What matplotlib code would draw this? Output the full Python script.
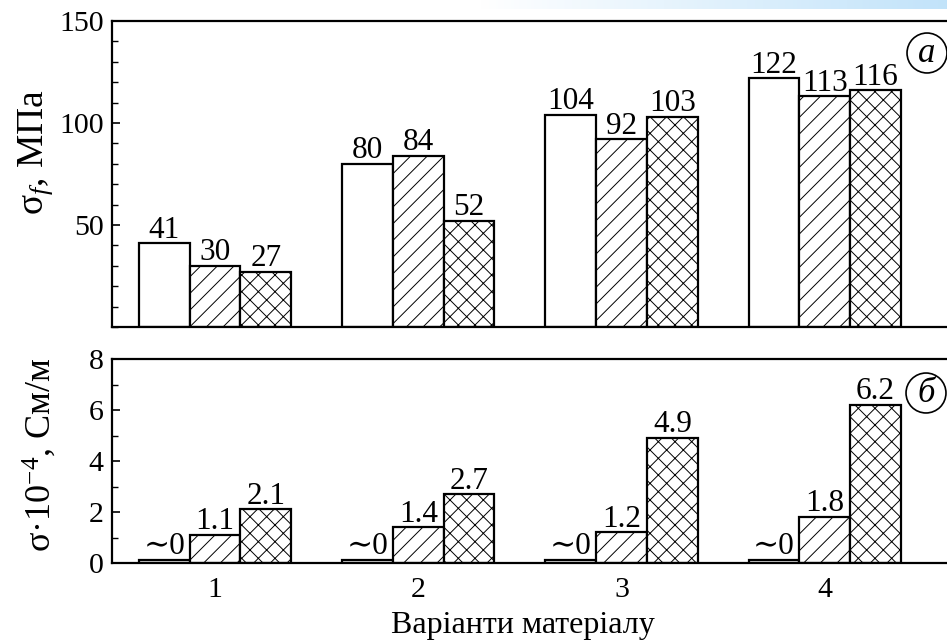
import numpy as np
import matplotlib
matplotlib.use('Agg')
import matplotlib.pyplot as plt

plt.rcParams['font.family'] = ['Liberation Serif', 'DejaVu Serif']
plt.rcParams['mathtext.fontset'] = 'custom'
plt.rcParams['mathtext.rm'] = 'Liberation Serif'
plt.rcParams['mathtext.it'] = 'Liberation Serif:italic'
plt.rcParams['hatch.linewidth'] = 0.7

# data
variants = [1, 2, 3, 4]
hatches = ['', '//', 'xx']

strength = [[41, 80, 104, 122],       # white bars
            [30, 84, 92, 113],        # hatched
            [27, 52, 103, 116]]       # crosshatched
strength_lbl = [['41', '80', '104', '122'],
                ['30', '84', '92', '113'],
                ['27', '52', '103', '116']]

conduct = [[0.12, 0.12, 0.12, 0.12],
           [1.1, 1.4, 1.2, 1.8],
           [2.1, 2.7, 4.9, 6.2]]
conduct_lbl = [['∼0', '∼0', '∼0', '∼0'],
               ['1.1', '1.4', '1.2', '1.8'],
               ['2.1', '2.7', '4.9', '6.2']]

W, H = 947, 644
fig = plt.figure(figsize=(W / 100, H / 100), dpi=100)

def px_axes(x0, y0, x1, y1):
    # axes from pixel box (top-left origin)
    return fig.add_axes([x0 / W, 1 - y1 / H, (x1 - x0) / W, (y1 - y0) / H])

ax1 = px_axes(112, 21, 965, 327)
ax2 = px_axes(112, 359, 965, 563)

bw = 0.25
x = np.array(variants, dtype=float)

def draw(ax, vals, lbls):
    for i in range(3):
        pos = x + (i - 1) * bw
        bars = ax.bar(pos, vals[i], bw, color='white', edgecolor='k',
                      linewidth=1.6, hatch=hatches[i], zorder=2)
        for b, t in zip(bars, lbls[i]):
            ax.annotate(t, (b.get_x() + b.get_width() / 2, b.get_height()),
                        xytext=(0, -1), textcoords='offset points',
                        ha='center', va='bottom', fontsize=22.5)
    ax.set_xlim(0.493, 4.69)
    for s in ax.spines.values():
        s.set_linewidth(1.6)
    ax.tick_params(axis='y', direction='in', length=6, width=1.2,
                   labelsize=21.5, pad=6)
    ax.tick_params(axis='y', which='minor', direction='in', length=4, width=1)
    ax.tick_params(axis='x', length=0, labelsize=21.5, pad=10)

draw(ax1, strength, strength_lbl)
ax1.set_ylim(0, 150)
ax1.set_yticks([50, 100, 150])
ax1.set_yticks(np.arange(0, 151, 10), minor=True)
ax1.set_xticks([])

draw(ax2, conduct, conduct_lbl)
ax2.set_ylim(0, 8)
ax2.set_yticks([0, 2, 4, 6, 8])
ax2.set_yticks(np.arange(0, 9, 1), minor=True)
ax2.set_xticks(variants)
ax2.set_xticklabels([str(v) for v in variants])

# axis labels
fig.text(36 / W, 1 - 152 / H, 'σ$_{f}$, МПа', rotation=90, fontsize=27,
         ha='center', va='center')
fig.text(40 / W, 1 - 455 / H, 'σ·10$^{-4}$, См/м', rotation=90, fontsize=26,
         ha='center', va='center')
fig.text(523 / W, 1 - 626 / H, 'Варіанти матеріалу', fontsize=23,
         ha='center', va='center')

# panel marks
circ = dict(boxstyle='circle,pad=0.1', fc='white', ec='k', lw=1.2)
fig.text(927 / W, 1 - 53 / H, 'a', fontsize=25, style='italic',
         ha='center', va='center', bbox=circ)
fig.text(926 / W, 1 - 393 / H, 'б', fontsize=25, style='italic',
         ha='center', va='center', bbox=circ)

# light blue band at the top right
band = px_axes(480, 0, W, 9)
grad = np.linspace(0, 1, 256)[None, :, None]
c0 = np.array([1.0, 1.0, 1.0])
c1 = np.array([0.76, 0.89, 0.98])
band.imshow(c0 + (c1 - c0) * grad, aspect='auto')
band.axis('off')

fig.savefig('out.png', dpi=100)
